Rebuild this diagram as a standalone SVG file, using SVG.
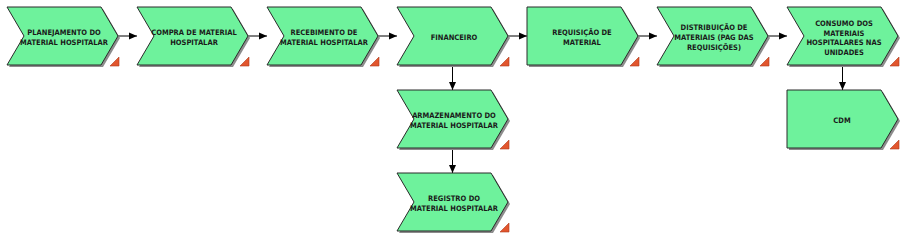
<svg xmlns="http://www.w3.org/2000/svg" width="909" height="236" viewBox="0 0 909 236">
<defs>
<path id="chev" d="M0,0 L94,0 L111,29 L94,58 L0,58 L17,29 Z"/>
<path id="flat" d="M0,0 L94,0 L111,29 L94,58 L0,58 Z"/>
<path id="tri" d="M103,59 L112,59 L112,50 Z"/>
<marker id="arr" viewBox="0 0 8 8" refX="8" refY="4" markerWidth="8" markerHeight="8" markerUnits="userSpaceOnUse" orient="auto">
<path d="M0,0.5 L8,4 L0,7.5 Z" fill="#000"/>
</marker>
</defs>
<style>
.sh{fill:#8c8c8c;}
.body{fill:#6ef29c;stroke:#2a2a2a;stroke-width:1;}
.tri{fill:#e2562e;stroke:#b03a1c;stroke-width:0.6;}
text{font-family:"DejaVu Sans Condensed","DejaVu Sans",sans-serif;font-weight:bold;font-size:7.5px;fill:#1a1a1a;text-anchor:middle;}
.con{stroke:#000;stroke-width:1;fill:none;marker-end:url(#arr);}
</style>
<rect width="909" height="236" fill="#fff"/>
<g id="connectors">
<path class="con" d="M118,36 L137,36"/>
<path class="con" d="M248,36 L267,36"/>
<path class="con" d="M378,36 L397,36"/>
<path class="con" d="M508,36 L527,36"/>
<path class="con" d="M638,36 L657,36"/>
<path class="con" d="M768,36 L787,36"/>
<path class="con" d="M452.5,65 L452.5,90"/>
<path class="con" d="M452.5,148 L452.5,173"/>
<path class="con" d="M842.5,65 L842.5,90"/>
</g>
<g id="n1" transform="translate(7,7)">
<use href="#chev" class="sh" x="2" y="2"/><use href="#chev" class="body"/><use href="#tri" class="tri"/>
<text x="57" y="28">PLANEJAMENTO DO</text><text x="57" y="38">MATERIAL HOSPITALAR</text>
</g>
<g id="n2" transform="translate(137,7)">
<use href="#chev" class="sh" x="2" y="2"/><use href="#chev" class="body"/><use href="#tri" class="tri"/>
<text x="57" y="28">COMPRA DE MATERIAL</text><text x="57" y="38">HOSPITALAR</text>
</g>
<g id="n3" transform="translate(267,7)">
<use href="#chev" class="sh" x="2" y="2"/><use href="#chev" class="body"/><use href="#tri" class="tri"/>
<text x="57" y="28">RECEBIMENTO DE</text><text x="57" y="38">MATERIAL HOSPITALAR</text>
</g>
<g id="n4" transform="translate(397,7)">
<use href="#chev" class="sh" x="2" y="2"/><use href="#chev" class="body"/><use href="#tri" class="tri"/>
<text x="57" y="33">FINANCEIRO</text>
</g>
<g id="n5" transform="translate(527,7)">
<use href="#flat" class="sh" x="2" y="2"/><use href="#flat" class="body"/><use href="#tri" class="tri"/>
<text x="55" y="28">REQUISIÇÃO DE</text><text x="55" y="38">MATERIAL</text>
</g>
<g id="n6" transform="translate(657,7)">
<use href="#chev" class="sh" x="2" y="2"/><use href="#chev" class="body"/><use href="#tri" class="tri"/>
<text x="57" y="23">DISTRIBUIÇÃO DE</text><text x="57" y="33">MATERIAIS (PAG DAS</text><text x="57" y="43">REQUISIÇÕES)</text>
</g>
<g id="n7" transform="translate(787,7)">
<use href="#chev" class="sh" x="2" y="2"/><use href="#chev" class="body"/><use href="#tri" class="tri"/>
<text x="57" y="19">CONSUMO DOS</text><text x="57" y="28.5">MATERIAIS</text><text x="57" y="38">HOSPITALARES NAS</text><text x="57" y="47.5">UNIDADES</text>
</g>
<g id="n8" transform="translate(397,90)">
<use href="#chev" class="sh" x="2" y="2"/><use href="#chev" class="body"/><use href="#tri" class="tri"/>
<text x="57" y="28">ARMAZENAMENTO DO</text><text x="57" y="38">MATERIAL HOSPITALAR</text>
</g>
<g id="n9" transform="translate(397,173)">
<use href="#chev" class="sh" x="2" y="2"/><use href="#chev" class="body"/><use href="#tri" class="tri"/>
<text x="57" y="28">REGISTRO DO</text><text x="57" y="38">MATERIAL HOSPITALAR</text>
</g>
<g id="n10" transform="translate(787,90)">
<use href="#flat" class="sh" x="2" y="2"/><use href="#flat" class="body"/><use href="#tri" class="tri"/>
<text x="55" y="33">CDM</text>
</g>
</svg>
